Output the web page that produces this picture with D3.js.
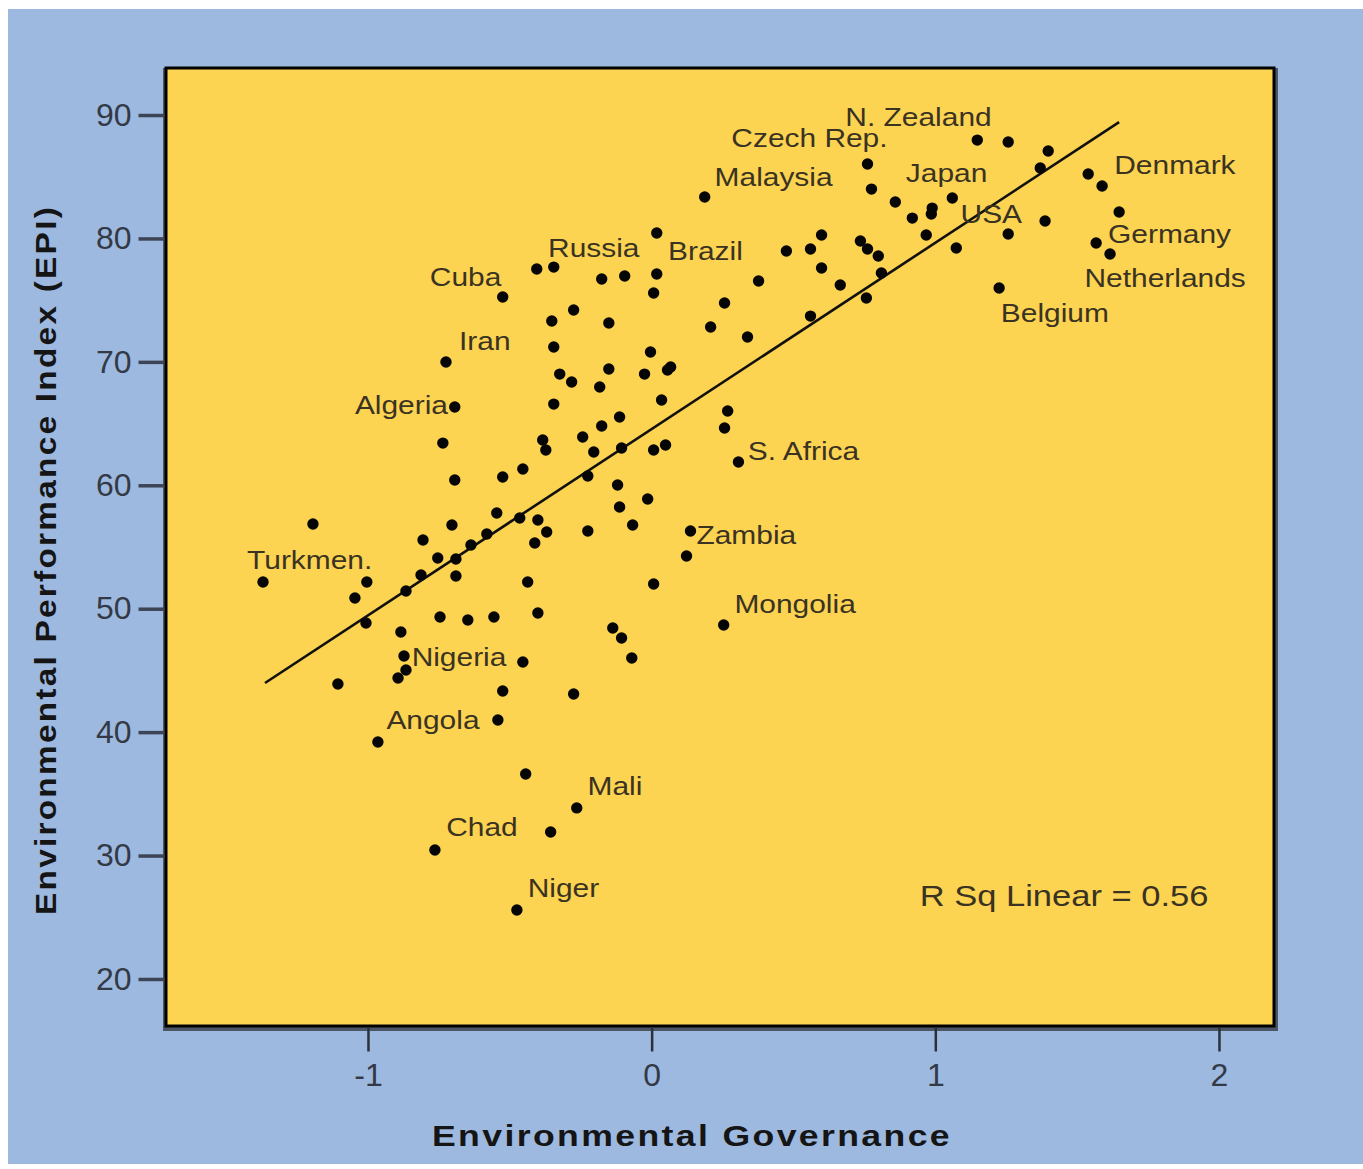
<!DOCTYPE html>
<html>
<head>
<meta charset="utf-8">
<script src="https://cdn.jsdelivr.net/npm/d3@7"></script>
<style>
  html, body { margin: 0; padding: 0; background: #ffffff; }
  svg { display: block; }
</style>
</head>
<body>
<svg id="chart" width="1363" height="1169"></svg>
<script>
// ---------- DATA ----------
const govValues = [
  1.148, 1.257, 1.398, 1.370, 1.539, 1.588, 0.761, 0.775, 0.859, 0.919,
  0.989, 0.986, 1.060, 0.968, 1.074, 1.257, 1.387, 1.648, 1.567, 1.616,
  1.225, 0.187, 0.018, 0.599, 0.475, 0.560, 0.736, 0.761, 0.799, 0.599,
  0.810, 0.377, 0.665, 0.757, 0.257, 0.560, 0.208, 0.338, -0.405, -0.345,
  -0.176, -0.095, 0.018, 0.007, -0.275, -0.525, -0.352, -0.151, -0.345, -0.725,
  -0.324, -0.282, -0.151, -0.004, -0.025, 0.056, 0.067, -0.183, 0.035, -0.694,
  -0.345, -0.113, -0.176, -0.736, -0.384, -0.373, -0.243, -0.204, -0.106, 0.007,
  0.049, 0.268, 0.257, 0.306, -0.694, -0.525, -0.454, -0.225, -0.120, -0.014,
  -0.113, -0.067, -0.225, -1.194, -0.704, -0.546, -0.465, -0.401, -0.370, -0.412,
  -0.806, -0.581, -0.637, -0.754, -0.690, -0.813, -0.690, -1.370, -1.004, -1.046,
  -0.866, -1.007, -0.437, -0.746, -0.648, -0.556, -0.401, -0.884, -0.873, -0.866,
  -0.894, -1.106, -0.454, -0.525, -0.275, 0.137, 0.123, 0.007, 0.254, -0.137,
  -0.106, -0.070, -0.965, -0.542, -0.444, -0.264, -0.356, -0.764, -0.475
];
const epiValues = [
  87.97, 87.81, 87.08, 85.71, 85.22, 84.25, 86.03, 84.00, 82.95, 81.65,
  82.46, 81.98, 83.28, 80.28, 79.22, 80.36, 81.41, 82.14, 79.63, 78.74,
  75.98, 83.36, 80.44, 80.28, 78.98, 79.14, 79.79, 79.14, 78.58, 77.60,
  77.20, 76.55, 76.23, 75.17, 74.77, 73.71, 72.82, 72.01, 77.52, 77.68,
  76.71, 76.96, 77.12, 75.58, 74.20, 75.25, 73.31, 73.15, 71.20, 69.99,
  69.01, 68.37, 69.42, 70.80, 69.01, 69.34, 69.58, 67.96, 66.91, 66.34,
  66.58, 65.53, 64.80, 63.42, 63.67, 62.86, 63.91, 62.70, 63.02, 62.86,
  63.26, 66.02, 64.64, 61.89, 60.43, 60.67, 61.32, 60.75, 60.02, 58.89,
  58.24, 56.78, 56.30, 56.86, 56.78, 57.75, 57.35, 57.19, 56.22, 55.32,
  55.57, 56.05, 55.16, 54.11, 54.03, 52.73, 52.65, 52.16, 52.16, 50.87,
  51.43, 48.84, 52.16, 49.33, 49.09, 49.33, 49.65, 48.11, 46.17, 45.03,
  44.39, 43.90, 45.68, 43.33, 43.09, 56.30, 54.27, 52.00, 48.68, 48.44,
  47.63, 46.01, 39.20, 40.98, 36.61, 33.86, 31.91, 30.45, 25.59
];

// Country labels: name and anchor (left edge, vertical middle) in data units
const labelNames = ["N. Zealand", "Czech Rep.", "Malaysia", "Japan", "Denmark", "USA",
  "Germany", "Netherlands", "Belgium", "Russia", "Brazil", "Cuba", "Iran", "Algeria",
  "S. Africa", "Turkmen.", "Zambia", "Mongolia", "Nigeria", "Angola", "Mali", "Chad", "Niger"];
const labelGov = [0.683, 0.281, 0.222, 0.896, 1.631, 1.089, 1.609, 1.526, 1.231, -0.365,
  0.058, -0.782, -0.679, -1.046, 0.339, -1.426, 0.158, 0.292, -0.846, -0.935, -0.226, -0.724, -0.437];
const labelEpi = [89.85, 88.17, 85.00, 85.33, 85.96, 81.98, 80.42, 76.85, 74.02, 79.22,
  79.01, 76.87, 71.71, 66.50, 62.78, 53.95, 55.97, 50.38, 46.12, 40.98, 35.67, 32.38, 27.36];

// Fitted line endpoints
const fitGov = [-1.363, 1.648];
const fitEpi = [43.98, 89.43];
const rSquared = 0.56;

const xTicks = [-1, 0, 1, 2];
const yTicks = [20, 30, 40, 50, 60, 70, 80, 90];

const xTitle = "Environmental Governance";
const yTitle = "Environmental Performance Index (EPI)";

// ---------- LAYOUT ----------
const svg = d3.select("#chart");
const plot = { left: 166, top: 68, right: 1274, bottom: 1026 };
const stretch = 1.15;

const x = d3.scaleLinear().domain([-1.712, 2.194]).range([plot.left, plot.right]);
const y = d3.scaleLinear().domain([16.19, 93.81]).range([plot.bottom, plot.top]);

// backgrounds
svg.append("rect").attr("x", 0).attr("y", 0).attr("width", 1363).attr("height", 1169).attr("fill", "#ffffff");
svg.append("rect").attr("x", 8).attr("y", 9).attr("width", 1355).attr("height", 1155).attr("fill", "#9db9e0");

// plot shadow + frame
svg.append("rect")
  .attr("x", plot.left - 3).attr("y", plot.top)
  .attr("width", plot.right - plot.left + 7).attr("height", plot.bottom - plot.top + 5)
  .attr("fill", "#4b5566");
svg.append("rect")
  .attr("x", plot.left).attr("y", plot.top)
  .attr("width", plot.right - plot.left).attr("height", plot.bottom - plot.top)
  .attr("fill", "#fdd352").attr("stroke", "#000").attr("stroke-width", 3);

// axes
const yAxis = d3.axisLeft(y).tickValues(yTicks).tickSize(26).tickPadding(7).tickFormat(d3.format("d"));
const gy = svg.append("g").attr("transform", `translate(${plot.left - 1.5},0)`).call(yAxis);
gy.select(".domain").remove();
gy.selectAll(".tick line").attr("stroke", "#3c4455").attr("stroke-width", 3.5);
gy.selectAll(".tick text")
  .attr("font-family", "Liberation Sans, Arial, sans-serif")
  .attr("font-size", 32).attr("fill", "#333a46");

const xAxis = d3.axisBottom(x).tickValues(xTicks).tickSize(24).tickPadding(12)
  .tickFormat(d => d < 0 ? "-" + Math.abs(d) : String(d));
const gx = svg.append("g").attr("transform", `translate(0,${plot.bottom + 1.5})`).call(xAxis);
gx.select(".domain").remove();
gx.selectAll(".tick line").attr("stroke", "#2b313c").attr("stroke-width", 2.5);
gx.selectAll(".tick text")
  .attr("font-family", "Liberation Sans, Arial, sans-serif")
  .attr("font-size", 32).attr("fill", "#333a46");

// axis titles
const xt = svg.append("text")
  .attr("x", 692).attr("y", 1135).attr("dy", "0.36em")
  .attr("text-anchor", "middle")
  .attr("font-family", "Liberation Sans, Arial, sans-serif")
  .attr("font-weight", "bold").attr("font-size", 30)
  .attr("letter-spacing", 2).attr("fill", "#151515")
  .text(xTitle);
xt.attr("textLength", 520).attr("lengthAdjust", "spacingAndGlyphs");

const yt = svg.append("text")
  .attr("transform", "translate(45,560) rotate(-90)")
  .attr("dy", "0.36em")
  .attr("text-anchor", "middle")
  .attr("font-family", "Liberation Sans, Arial, sans-serif")
  .attr("font-weight", "bold").attr("font-size", 30)
  .attr("letter-spacing", 2).attr("fill", "#151515")
  .text(yTitle);
yt.attr("textLength", 710).attr("lengthAdjust", "spacingAndGlyphs");

// fit line
svg.append("line")
  .attr("x1", x(fitGov[0])).attr("y1", y(fitEpi[0]))
  .attr("x2", x(fitGov[1])).attr("y2", y(fitEpi[1]))
  .attr("stroke", "#111").attr("stroke-width", 2.6);

// points
const points = govValues.map((g, i) => ({ g, e: epiValues[i] }));
svg.append("g").selectAll("circle").data(points).join("circle")
  .attr("cx", d => x(d.g)).attr("cy", d => y(d.e))
  .attr("r", 5.7).attr("fill", "#050505");

// country labels
const labels = labelNames.map((n, i) => ({ n, g: labelGov[i], e: labelEpi[i] }));
svg.append("g").selectAll("text").data(labels).join("text")
  .attr("x", d => x(d.g)).attr("y", d => y(d.e)).attr("dy", "0.36em")
  .attr("font-family", "Liberation Sans, Arial, sans-serif")
  .attr("font-size", 26).attr("fill", "#3a3322")
  .text(d => d.n)
  .each(function () {
    const w = this.getComputedTextLength();
    d3.select(this).attr("textLength", w * stretch).attr("lengthAdjust", "spacingAndGlyphs");
  });

// R squared annotation
const rs = svg.append("text")
  .attr("x", x(0.945)).attr("y", y(26.81)).attr("dy", "0.36em")
  .attr("font-family", "Liberation Sans, Arial, sans-serif")
  .attr("font-size", 30).attr("fill", "#3a3322")
  .text("R Sq Linear = " + rSquared.toFixed(2));
rs.attr("textLength", rs.node().getComputedTextLength() * stretch).attr("lengthAdjust", "spacingAndGlyphs");
</script>
</body>
</html>
